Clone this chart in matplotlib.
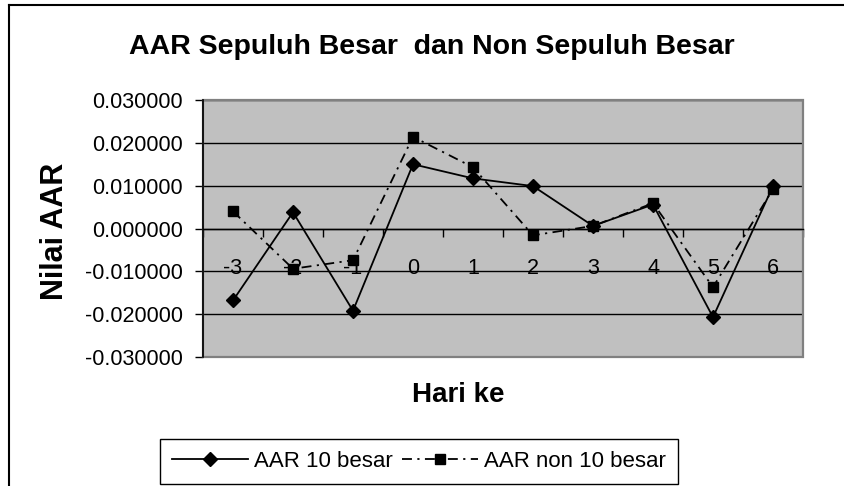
import matplotlib
matplotlib.use("Agg")
import matplotlib.pyplot as plt
from matplotlib.lines import Line2D
from matplotlib.patches import Rectangle

plt.rcParams['font.family'] = ['Liberation Sans', 'DejaVu Sans']

# ---- data ----
days = ["-3", "-2", "-1", "0", "1", "2", "3", "4", "5", "6"]
aar_10_besar = [-0.0168, 0.0038, -0.0192, 0.0150, 0.0117, 0.0099, 0.0006, 0.0056, -0.0207, 0.0099]
aar_non_10_besar = [0.0040, -0.0094, -0.0074, 0.0214, 0.0143, -0.0016, 0.0006, 0.0059, -0.0137, 0.0092]
y_ticks = [-0.03, -0.02, -0.01, 0.0, 0.01, 0.02, 0.03]
y_tick_labels = ["-0.030000", "-0.020000", "-0.010000", "0.000000", "0.010000", "0.020000", "0.030000"]
series_names = ["AAR 10 besar", "AAR non 10 besar"]
title = "AAR Sepuluh Besar  dan Non Sepuluh Besar"
xlabel = "Hari ke"
ylabel = "Nilai AAR"

W, H = 844, 486
fig = plt.figure(figsize=(W / 100, H / 100), dpi=100)
fig.patch.set_facecolor("white")

left, right, top, bottom = 203, 803, 100, 357
ax = fig.add_axes([left / W, 1 - bottom / H, (right - left) / W, (bottom - top) / H])
ax.set_facecolor("#C0C0C0")

x = list(range(len(days)))
ax.plot(x, aar_10_besar, color="black", lw=1.3, marker="D", ms=7,
        markerfacecolor="black", markeredgecolor="black", label=series_names[0], zorder=4)
ax.plot(x, aar_non_10_besar, color="black", lw=1.3, linestyle=(0, (5.5, 3, 1.2, 3)),
        marker="s", ms=7.5, markerfacecolor="black", markeredgecolor="black",
        label=series_names[1], zorder=5)

ax.set_xlim(-0.5, len(days) - 0.5)
ax.set_ylim(y_ticks[0], y_ticks[-1])

# y axis
ax.set_yticks(y_ticks)
ax.set_yticklabels(y_tick_labels, fontsize=15.5)
ax.tick_params(axis="y", direction="out", length=5.8, width=1, color="black", pad=8.6)
ax.yaxis.grid(True, color="black", lw=1)
ax.set_axisbelow(True)

# x axis at zero
ax.spines["bottom"].set_position(("data", 0))
ax.spines["bottom"].set_color("black")
ax.spines["bottom"].set_linewidth(1)
ax.spines["left"].set_color("black")
ax.spines["left"].set_linewidth(1.2)
ax.spines["top"].set_visible(False)
ax.spines["right"].set_visible(False)
ax.add_patch(Rectangle((0, 0), 1, 1, transform=ax.transAxes, fill=False,
                       edgecolor="#808080", lw=1.6, zorder=1, clip_on=False))

ax.set_xticks([i - 0.5 for i in range(len(days) + 1)])
ax.set_xticklabels([])
ax.set_xticks(x, minor=True)
ax.set_xticklabels(days, minor=True, fontsize=15.5)
ax.tick_params(axis="x", which="major", direction="out", length=5.8, width=1, color="black")
ax.tick_params(axis="x", which="minor", length=0, pad=21)

# titles
fig.text(432 / W, 1 - 54 / H, title, ha="center", va="baseline",
         fontsize=20.5, fontweight="bold")
fig.text(458 / W, 1 - 402 / H, xlabel, ha="center", va="baseline",
         fontsize=20, fontweight="bold")
fig.text(55 / W, 1 - 231 / H, ylabel, ha="center", va="center", rotation=90,
         fontsize=22, fontweight="bold")

# legend
leg = fig.legend(loc="upper left", bbox_to_anchor=(160 / W, 1 - 439 / H),
                 bbox_transform=fig.transFigure, ncol=2, fontsize=16,
                 frameon=True, fancybox=False, framealpha=1, edgecolor="black",
                 borderaxespad=0, borderpad=0.55, handlelength=3.4,
                 handletextpad=0.3, columnspacing=0.4, numpoints=1)
leg.get_frame().set_linewidth(1)

# chart border
fig.add_artist(Line2D([9 / W, 9 / W], [0, 1 - 5 / H], transform=fig.transFigure,
                      color="black", lw=1.5))
fig.add_artist(Line2D([9 / W, 1], [1 - 5 / H, 1 - 5 / H], transform=fig.transFigure,
                      color="black", lw=1.5))

fig.savefig("out.png", dpi=100)
